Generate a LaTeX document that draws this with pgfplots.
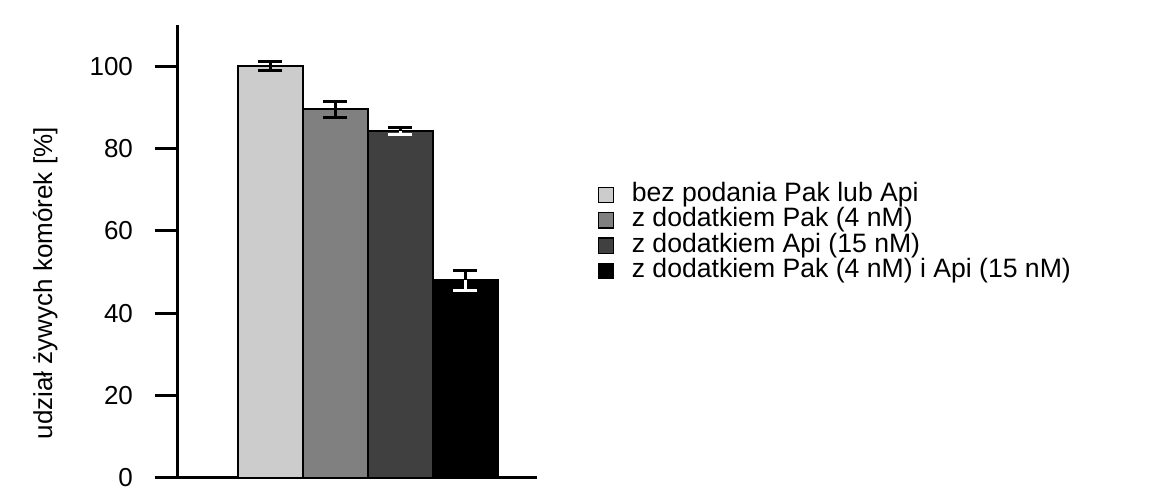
\documentclass[border=0pt]{standalone}
\usepackage{fontspec}
\setmainfont{Liberation Sans}
\usepackage{pgfplots}
\pgfplotsset{compat=1.18}
\definecolor{c1}{HTML}{CCCCCC}
\definecolor{c2}{HTML}{808080}
\definecolor{c3}{HTML}{404040}
\definecolor{c4}{HTML}{000000}
\begin{document}
\begin{tikzpicture}
\path[use as bounding box] (-89pt,-9pt) rectangle (495pt,239pt);
\begin{axis}[
  at={(0,0)}, anchor=south west,
  scale only axis, width=179.5pt, height=226.5pt,
  xmin=-0.423, xmax=5.1, ymin=0, ymax=110,
  axis x line=bottom, axis y line=left,
  axis line style={line width=1.5pt, -},
  xtick=\empty,
  ytick={0,20,...,100},
  tick align=outside, major tick length=11.5pt,
  tick style={line width=1.5pt, black},
  /pgf/number format/assume math mode=true,
  y tick label style={font=\fontsize{13}{15}\selectfont, xshift=-7.5pt},
  ylabel={udział żywych komórek [\%]},
  ylabel style={font=\fontsize{13}{15}\selectfont, at={(axis description cs:-0.37,0.43)}, anchor=center},
  ybar,
  legend style={at={(1.17,0.653)}, anchor=north west, draw=none, fill=none,
    inner sep=0pt, outer sep=0pt, row sep=0pt,
    font=\fontsize{13.3}{15}\selectfont,
    nodes={inner sep=0.25pt, text height=9.4pt, text depth=2.8pt}},
  legend cell align=left,
  legend image code/.code={\draw[#1, line width=0.7pt] (0pt,-3.8pt) rectangle (7.5pt,3.8pt); \path (15.8pt,0pt);},
  every axis plot/.append style={bar width=32.5pt, bar shift=0pt, draw=black, line width=1pt},
]
\addplot[fill=c1, error bars/.cd, y dir=both, y explicit,
  error bar style={line width=1.5pt, black},
  error mark options={line width=1.5pt, mark size=6pt, black, rotate=90}]
  coordinates {(1,100) +- (0,1.1)};
\addplot[fill=c2, error bars/.cd, y dir=both, y explicit,
  error bar style={line width=1.5pt, black},
  error mark options={line width=1.5pt, mark size=6pt, black, rotate=90}]
  coordinates {(2,89.5) +- (0,2.0)};
\addplot[fill=c3, error bars/.cd, y dir=plus, y explicit,
  error bar style={line width=1.5pt, black},
  error mark options={line width=1.5pt, mark size=6pt, black, rotate=90}]
  coordinates {(3,84.2) +- (0,0.9)};
\addplot[fill=c4, error bars/.cd, y dir=plus, y explicit,
  error bar style={line width=1.5pt, black},
  error mark options={line width=1.5pt, mark size=6pt, black, rotate=90}]
  coordinates {(4,48.0) +- (0,2.5)};
\addplot[draw=none, fill=none, forget plot, error bars/.cd, y dir=minus, y explicit,
  error bar style={line width=1.5pt, white},
  error mark options={line width=1.5pt, mark size=6pt, white, rotate=90}]
  coordinates {(3,84.2) +- (0,0.9) (4,48.0) +- (0,2.5)};
\legend{bez podania Pak lub Api, z dodatkiem Pak (4 nM), z dodatkiem Api (15 nM), z dodatkiem Pak (4 nM) i Api (15 nM)}
\end{axis}
\end{tikzpicture}
\end{document}
